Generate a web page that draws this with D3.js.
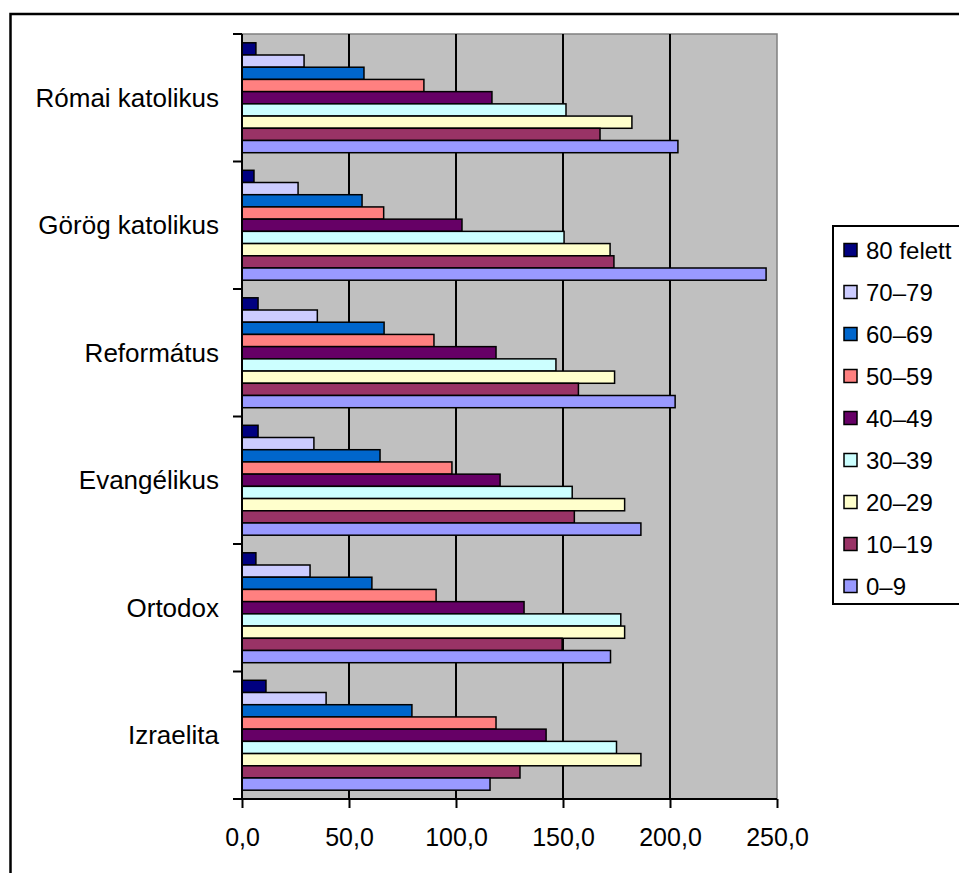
<!DOCTYPE html>
<html>
<head>
<meta charset="utf-8">
<script src="https://cdn.jsdelivr.net/npm/d3@7"></script>
<style>
  html, body { margin: 0; padding: 0; background: #fff; }
  svg { display: block; }
  text { font-family: "Liberation Sans", Arial, sans-serif; fill: #000; }
</style>
</head>
<body>
<svg id="chart" width="959" height="873"></svg>
<script>
// ---- data ----
const categories = ["Római katolikus", "Görög katolikus", "Református", "Evangélikus", "Ortodox", "Izraelita"];
const seriesNames = ["80 felett", "70–79", "60–69", "50–59", "40–49", "30–39", "20–29", "10–19", "0–9"];
const seriesColors = ["#000080", "#CCCCFF", "#0066CC", "#FF8080", "#660066", "#CCFFFF", "#FFFFCC", "#993366", "#9999FF"];
const v80plus = [6.5, 5.6, 7.5, 7.5, 6.5, 11.2];
const v70_79  = [29.0, 26.2, 35.2, 33.6, 31.8, 39.3];
const v60_69  = [57.0, 56.1, 66.4, 64.5, 60.7, 79.4];
const v50_59  = [85.0, 66.2, 89.7, 98.1, 90.7, 118.7];
const v40_49  = [116.8, 102.8, 118.7, 120.6, 131.8, 142.1];
const v30_39  = [151.4, 150.5, 146.7, 154.3, 177.0, 175.0];
const v20_29  = [182.2, 172.0, 174.1, 178.8, 178.8, 186.4];
const v10_19  = [167.3, 173.8, 157.2, 155.3, 149.6, 129.9];
const v0_9    = [203.7, 244.9, 202.4, 186.4, 172.2, 115.9];
const seriesValues = [v80plus, v70_79, v60_69, v50_59, v40_49, v30_39, v20_29, v10_19, v0_9];
const xTicks = [0, 50, 100, 150, 200, 250];

// ---- layout ----
const svg = d3.select("#chart");
const plot = { left: 242, top: 34, right: 777, bottom: 799 };
const fmt = d => d3.format(".1f")(d).replace(".", ",");

// outer chart border
svg.append("rect").attr("x", 10.5).attr("y", 14).attr("width", 1000).attr("height", 900)
  .attr("fill", "#fff").attr("stroke", "#000").attr("stroke-width", 2.5);

const x = d3.scaleLinear().domain([0, 250]).range([plot.left, plot.right]);
const y = d3.scaleBand().domain(categories).range([plot.top, plot.bottom]).paddingInner(0).paddingOuter(0);
const yInner = d3.scaleBand().domain(seriesNames).range([0, y.bandwidth()]).paddingInner(0).paddingOuter(0.72);

// plot background
svg.append("rect").attr("x", plot.left).attr("y", plot.top)
  .attr("width", plot.right - plot.left).attr("height", plot.bottom - plot.top)
  .attr("fill", "#C0C0C0").attr("stroke", "#808080").attr("stroke-width", 1.5);

// gridlines
svg.append("g").selectAll("line").data(xTicks.filter(t => t > 0 && t < 250)).join("line")
  .attr("x1", d => x(d)).attr("x2", d => x(d))
  .attr("y1", plot.top).attr("y2", plot.bottom)
  .attr("stroke", "#000").attr("stroke-width", 2);

// bars
const rows = [];
categories.forEach((c, ci) => {
  seriesNames.forEach((s, si) => {
    rows.push({ cat: c, series: s, value: seriesValues[si][ci], color: seriesColors[si] });
  });
});
svg.append("g").selectAll("rect").data(rows).join("rect")
  .attr("x", x(0))
  .attr("y", d => y(d.cat) + yInner(d.series))
  .attr("width", d => x(d.value) - x(0))
  .attr("height", yInner.bandwidth())
  .attr("fill", d => d.color)
  .attr("stroke", "#000").attr("stroke-width", 1.5);

// x axis
const xAxis = d3.axisBottom(x).tickValues(xTicks).tickFormat(fmt).tickSize(9).tickPadding(20);
const gx = svg.append("g").attr("transform", `translate(0,${plot.bottom})`).call(xAxis);
gx.select(".domain").attr("stroke", "#000").attr("stroke-width", 2).attr("d", `M${plot.left - 9},0H${plot.right}`);
gx.selectAll(".tick line").attr("stroke", "#000").attr("stroke-width", 2);
gx.selectAll(".tick text").attr("font-size", 25).attr("font-family", "Liberation Sans, Arial, sans-serif");

// y axis with category ticks at band boundaries
const bounds = categories.map(c => y(c)).concat([plot.bottom]);
svg.append("g").selectAll("line").data(bounds).join("line")
  .attr("x1", plot.left - 9).attr("x2", plot.left)
  .attr("y1", d => d).attr("y2", d => d)
  .attr("stroke", "#000").attr("stroke-width", 2);
svg.append("line").attr("x1", plot.left).attr("x2", plot.left)
  .attr("y1", plot.top).attr("y2", plot.bottom).attr("stroke", "#000").attr("stroke-width", 2);
svg.append("g").selectAll("text").data(categories).join("text")
  .attr("x", 219).attr("y", d => y(d) + y.bandwidth() / 2)
  .attr("text-anchor", "end").attr("dominant-baseline", "central")
  .attr("font-size", 26).text(d => d);

// legend
const lg = svg.append("g");
lg.append("rect").attr("x", 833).attr("y", 226).attr("width", 200).attr("height", 378)
  .attr("fill", "#fff").attr("stroke", "#000").attr("stroke-width", 2);
const ly = d3.scalePoint().domain(seriesNames).range([250, 586]);
lg.selectAll("rect.sw").data(seriesNames).join("rect").attr("class", "sw")
  .attr("x", 844).attr("y", d => ly(d) - 6.5).attr("width", 13).attr("height", 13)
  .attr("fill", (d, i) => seriesColors[i]).attr("stroke", "#000").attr("stroke-width", 1.5);
lg.selectAll("text").data(seriesNames).join("text")
  .attr("x", 866).attr("y", d => ly(d)).attr("dominant-baseline", "central")
  .attr("font-size", 24).text(d => d);
</script>
</body>
</html>
